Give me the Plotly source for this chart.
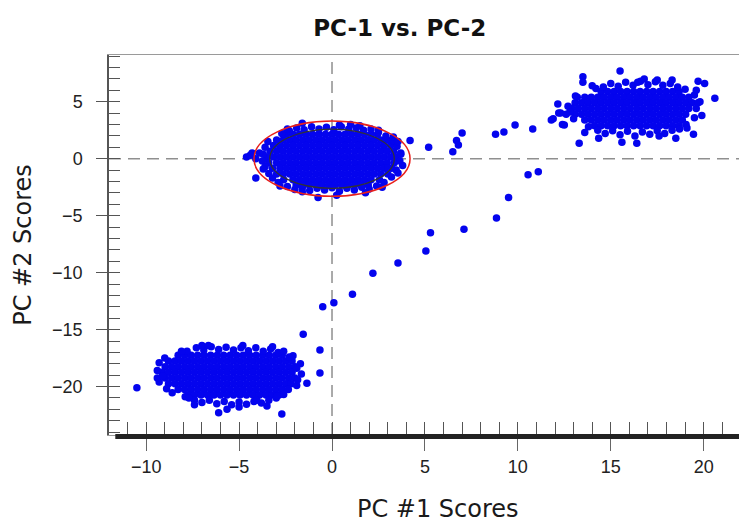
import plotly.graph_objects as go

# ---------------- data (PC scores) ----------------
# dense core of the central group: (PC2 value, [PC1 values])
center_rows = [
    (2.15, [-2.45, -2.1, -1.75, -1.4, -1.05, -0.7, -0.35, 0.0, 0.35, 0.7, 1.05, 1.4, 1.75, 2.1, 2.45]),
    (1.65, [-2.98, -2.63, -2.28, -1.93, -1.58, -1.23, -0.88, -0.53, -0.18, 0.17, 0.52, 0.87, 1.22, 1.57, 1.92, 2.27, 2.62, 2.97]),
    (1.15, [-3.15, -2.8, -2.45, -2.1, -1.75, -1.4, -1.05, -0.7, -0.35, 0.0, 0.35, 0.7, 1.05, 1.4, 1.75, 2.1, 2.45, 2.8, 3.15]),
    (0.65, [-3.33, -2.98, -2.63, -2.28, -1.93, -1.58, -1.23, -0.88, -0.53, -0.18, 0.17, 0.52, 0.87, 1.22, 1.57, 1.92, 2.27, 2.62, 2.97, 3.32]),
    (0.15, [-3.5, -3.15, -2.8, -2.45, -2.1, -1.75, -1.4, -1.05, -0.7, -0.35, 0.0, 0.35, 0.7, 1.05, 1.4, 1.75, 2.1, 2.45, 2.8, 3.15, 3.45]),
    (-0.35, [-3.4, -2.98, -2.63, -2.28, -1.93, -1.58, -1.23, -0.88, -0.53, -0.18, 0.17, 0.52, 0.87, 1.22, 1.57, 1.92, 2.27, 2.62, 2.97, 3.35]),
    (-0.85, [-3.2, -2.8, -2.45, -2.1, -1.75, -1.4, -1.05, -0.7, -0.35, 0.0, 0.35, 0.7, 1.05, 1.4, 1.75, 2.1, 2.45, 2.8, 3.2]),
    (-1.35, [-2.98, -2.63, -2.28, -1.93, -1.58, -1.23, -0.88, -0.53, -0.18, 0.17, 0.52, 0.87, 1.22, 1.57, 1.92, 2.27, 2.62, 3.0]),
    (-1.85, [-2.6, -2.1, -1.75, -1.4, -1.05, -0.7, -0.35, 0.0, 0.35, 0.7, 1.05, 1.4, 1.75, 2.1, 2.55]),
    (-2.3, [-1.93, -1.58, -1.23, -0.88, -0.53, -0.18, 0.17, 0.52, 0.87, 1.22, 1.57, 1.95]),
]
center_edge_x = [-2.3, -1.9, -1.5, -1.1, -0.7, -0.3, 0.1, 0.5, 0.9, 1.3, 1.7, 2.1, 2.5, -2.7, 2.9, 1.5,
                 -2.4, -2.0, -1.6, -1.2, -0.8, -0.4, 0.0, 0.4, 0.8, 1.2, 1.6, 2.0, 2.4, 2.8, -2.9,
                 -3.6, -3.7, -3.75, -3.6, -3.45, -3.4, 3.5, 3.7, 3.65, 3.45, 3.3, 3.2]
center_edge_y = [2.45, 2.7, 2.55, 2.8, 2.6, 2.75, 2.55, 2.8, 2.6, 2.7, 2.5, 2.6, 2.35, 2.2, 2.0, 2.9,
                 -2.45, -2.7, -2.55, -2.8, -2.6, -2.75, -2.55, -2.85, -2.6, -2.75, -2.5, -2.65, -2.4, -2.1, -2.1,
                 1.0, 0.4, -0.2, -0.7, 1.5, -1.3, 1.1, 0.5, -0.2, -1.0, 1.6, -1.6]
center_extra_x = [-4.6, -4.3, -4.1, -4.4, -3.9, -4.1, -3.2, -3.7, -2.8, -1.6, -0.75, 0.25, 1.8, 2.7,
                  -1.6, 0.4, 1.0, -2.4, 2.5, 3.3, 3.55, 4.2, 3.7, 3.8, 3.55, 3.0]
center_extra_y = [0.15, 0.5, 0.0, 0.3, 0.5, -1.7, -1.7, -0.9, -2.4, -2.9, -3.4, -3.2, -3.0, -2.5,
                  3.1, 2.95, 3.0, 2.6, 2.5, 1.9, 1.5, 1.6, 0.4, -0.6, -1.25, -0.8]

# upper-right group
upper_rows = [
    (5.9, [14.48, 14.83, 15.18, 15.53, 15.88, 16.23, 16.58, 16.93, 17.28, 17.63, 17.98, 18.33, 18.68]),
    (5.4, [13.6, 13.95, 14.3, 14.65, 15.0, 15.35, 15.7, 16.05, 16.4, 16.75, 17.1, 17.45, 17.8, 18.15, 18.5, 18.85, 19.2]),
    (4.9, [13.08, 13.43, 13.78, 14.13, 14.48, 14.83, 15.18, 15.53, 15.88, 16.23, 16.58, 16.93, 17.28, 17.63, 17.98, 18.33, 18.68, 19.03, 19.38]),
    (4.4, [12.9, 13.25, 13.6, 13.95, 14.3, 14.65, 15.0, 15.35, 15.7, 16.05, 16.4, 16.75, 17.1, 17.45, 17.8, 18.15, 18.5, 18.85, 19.2]),
    (3.9, [13.08, 13.43, 13.78, 14.13, 14.48, 14.83, 15.18, 15.53, 15.88, 16.23, 16.58, 16.93, 17.28, 17.63, 17.98, 18.33, 18.68, 19.03]),
    (3.4, [13.6, 13.95, 14.3, 14.65, 15.0, 15.35, 15.7, 16.05, 16.4, 16.75, 17.1, 17.45, 17.8, 18.15, 18.5, 18.85]),
    (2.9, [14.13, 14.48, 14.83, 15.18, 15.53, 15.88, 16.23, 16.58, 16.93, 17.28, 17.63, 17.98, 18.33, 18.68]),
]
upper_edge_x = [14.6, 15.0, 15.4, 15.8, 16.2, 16.6, 17.0, 17.4, 17.8, 18.2, 18.6, 14.2, 19.0,
                14.3, 14.7, 15.1, 15.5, 15.9, 16.3, 16.7, 17.1, 17.5, 17.9, 18.3, 18.7, 13.8, 19.05,
                12.7, 12.8, 13.0, 13.2, 12.6, 19.5, 19.6, 19.5, 19.8]
upper_edge_y = [6.3, 6.6, 6.35, 6.7, 6.45, 6.8, 6.5, 6.75, 6.45, 6.6, 6.3, 6.15, 6.1,
                2.5, 2.2, 2.45, 2.1, 2.4, 2.0, 2.35, 2.15, 2.45, 2.2, 2.5, 2.6, 2.8, 3.0,
                4.6, 4.1, 3.5, 5.4, 3.9, 5.6, 4.4, 3.6, 5.0]
upper_extra_x = [15.5, 13.5, 13.5, 20.6, 20.05, 19.7, 16.4, 19.45, 11.9, 12.4, 12.2, 14.35, 15.6, 17.6,
                 19.1, 19.6, 19.7, 18.3, 17.5, 16.8, 16.45, 13.1, 14.0, 19.9, 18.5, 13.6, 12.15]
upper_extra_y = [7.7, 7.2, 6.7, 5.3, 6.6, 6.8, 1.35, 2.15, 3.5, 3.0, 4.0, 1.8, 1.45, 2.0,
                 2.7, 6.0, 4.9, 6.9, 6.9, 7.0, 6.7, 5.5, 6.4, 3.8, 1.8, 2.3, 4.8]

# lower-left group
lower_rows = [
    (-17.25, [-8.28, -7.93, -7.58, -7.23, -6.88, -6.53, -6.18, -5.83, -5.48, -5.13, -4.78, -4.43, -4.08, -3.73, -3.38, -3.03, -2.68]),
    (-17.75, [-8.8, -8.45, -8.1, -7.75, -7.4, -7.05, -6.7, -6.35, -6.0, -5.65, -5.3, -4.95, -4.6, -4.25, -3.9, -3.55, -3.2, -2.85, -2.5, -2.15]),
    (-18.25, [-8.98, -8.63, -8.28, -7.93, -7.58, -7.23, -6.88, -6.53, -6.18, -5.83, -5.48, -5.13, -4.78, -4.43, -4.08, -3.73, -3.38, -3.03, -2.68, -2.33, -1.98]),
    (-18.75, [-9.15, -8.8, -8.45, -8.1, -7.75, -7.4, -7.05, -6.7, -6.35, -6.0, -5.65, -5.3, -4.95, -4.6, -4.25, -3.9, -3.55, -3.2, -2.85, -2.5, -2.15]),
    (-19.25, [-8.98, -8.63, -8.28, -7.93, -7.58, -7.23, -6.88, -6.53, -6.18, -5.83, -5.48, -5.13, -4.78, -4.43, -4.08, -3.73, -3.38, -3.03, -2.68, -2.33, -2.0]),
    (-19.75, [-8.8, -8.45, -8.1, -7.75, -7.4, -7.05, -6.7, -6.35, -6.0, -5.65, -5.3, -4.95, -4.6, -4.25, -3.9, -3.55, -3.2, -2.85, -2.5, -2.2]),
    (-20.25, [-8.28, -7.93, -7.58, -7.23, -6.88, -6.53, -6.18, -5.83, -5.48, -5.13, -4.78, -4.43, -4.08, -3.73, -3.38, -3.03, -2.68, -2.35]),
    (-20.75, [-7.75, -7.4, -7.05, -6.7, -6.35, -6.0, -5.65, -5.3, -4.95, -4.6, -4.25, -3.9, -3.55, -3.2, -2.85]),
]
lower_edge_x = [-7.8, -7.3, -6.9, -6.5, -6.1, -5.7, -5.3, -4.9, -4.5, -4.1, -3.7, -3.3, -2.9,
                -7.9, -7.4, -7.0, -6.6, -6.2, -5.8, -5.4, -5.0, -4.6, -4.2, -3.8, -3.4, -3.0, -2.6,
                -9.4, -9.3, -9.0, -8.9, -1.7, -1.65, -1.9, -2.1]
lower_edge_y = [-16.9, -16.6, -16.8, -16.5, -16.75, -16.55, -16.8, -16.6, -16.85, -16.6, -16.9, -16.7, -17.0,
                -20.9, -21.2, -21.4, -21.2, -21.5, -21.3, -21.6, -21.35, -21.55, -21.3, -21.45, -21.2, -21.0, -20.7,
                -18.6, -19.6, -17.5, -20.2, -18.0, -18.9, -19.9, -17.3]
lower_extra_x = [-10.5, -9.3, -9.4, -9.1, -8.6, -7.0, -6.65, -4.8, -3.2, -2.3, -1.85, -1.9, -4.05,
                 -7.7, -2.95, -6.1, -5.65, -7.4, -5.0, -3.5, -8.1, -2.6]
lower_extra_y = [-20.1, -17.9, -19.25, -19.1, -20.55, -16.4, -16.4, -16.4, -16.5, -17.4, -19.4, -18.4, -21.2,
                 -21.0, -20.8, -22.3, -22.0, -21.6, -21.8, -21.7, -16.9, -16.9]

# scattered samples between the groups
bridge_x = [5.2, 7.0, 6.7, 6.8, 6.5, 8.8, 9.25, 9.85, 10.8, 11.8, 12.5, 12.3, 13.3,
            10.55, 11.1, 9.5, 8.85, 7.1, 5.3, 5.05, 3.55, 2.2, 1.1, 0.1, -0.5,
            -1.55, -0.65, -0.65, -1.35, -2.7]
bridge_y = [1.0, 2.25, 1.6, 1.2, 0.6, 2.15, 2.35, 2.95, 2.6, 3.4, 2.95, 4.0, 1.35,
            -1.4, -1.15, -3.4, -5.2, -6.2, -6.5, -8.1, -9.15, -10.05, -11.9, -12.65, -13.0,
            -15.4, -16.8, -18.8, -19.7, -22.4]

# confidence ellipses of the central group (semi-axes in score units)
ellipse_center = (0.0, 0.0)
outer_ellipse_axes = (4.2, 3.3)   # red
inner_ellipse_axes = (3.35, 2.6)  # dark

x_ticks = [-10, -5, 0, 5, 10, 15, 20]
y_ticks = [-20, -15, -10, -5, 0, 5]
x_range = [-12.0, 21.9]
y_range = [-24.25, 9.1]

# ---------------- build point table ----------------
xs, ys = [], []
for rows in (center_rows, upper_rows, lower_rows):
    for yv, xrow in rows:
        xs.extend(xrow)
        ys.extend([yv] * len(xrow))
for ex, ey in ((center_edge_x, center_edge_y), (center_extra_x, center_extra_y),
               (upper_edge_x, upper_edge_y), (upper_extra_x, upper_extra_y),
               (lower_edge_x, lower_edge_y), (lower_extra_x, lower_extra_y),
               (bridge_x, bridge_y)):
    xs.extend(ex)
    ys.extend(ey)

BLUE = "#0404ee"
fig = go.Figure()
fig.add_trace(go.Scatter(x=xs, y=ys, mode="markers",
                         marker=dict(color=BLUE, size=7.5, line=dict(width=0)),
                         showlegend=False, hoverinfo="x+y"))
# helper trace so the overlay axes (inside tick marks) are drawn
fig.add_trace(go.Scatter(x=[x_ticks[2]], y=[y_ticks[4]], xaxis="x2", yaxis="y2", mode="markers",
                         marker=dict(opacity=0), showlegend=False, hoverinfo="skip"))

cx, cy = ellipse_center
shapes = [
    dict(type="line", xref="paper", x0=0, x1=1, yref="y", y0=0, y1=0, layer="below",
         line=dict(color="#8f8f8f", width=1.5, dash="12px,7px")),
    dict(type="line", xref="x", x0=0, x1=0, yref="paper", y0=0, y1=1, layer="below",
         line=dict(color="#8f8f8f", width=1.5, dash="12px,7px")),
    dict(type="circle", xref="x", yref="y",
         x0=cx - inner_ellipse_axes[0], x1=cx + inner_ellipse_axes[0],
         y0=cy - inner_ellipse_axes[1], y1=cy + inner_ellipse_axes[1],
         line=dict(color="#333333", width=1.2), layer="above"),
    dict(type="circle", xref="x", yref="y",
         x0=cx - outer_ellipse_axes[0], x1=cx + outer_ellipse_axes[0],
         y0=cy - outer_ellipse_axes[1], y1=cy + outer_ellipse_axes[1],
         line=dict(color="#e8201c", width=1.5), layer="above"),
    # heavy base bar under the plot
    dict(type="line", xref="paper", x0=0.01, x1=1.0, yref="paper", y0=-0.004, y1=-0.004,
         line=dict(color="#222222", width=5), layer="above"),
]

tickfont = dict(family="Liberation Sans, Arial", size=18, color="#222222")
titlefont = dict(family="DejaVu Sans", size=24, color="#1a1a1a")

fig.update_layout(
    width=739, height=522,
    margin=dict(l=109, r=0, t=55, b=87),
    paper_bgcolor="white", plot_bgcolor="white",
    title=dict(text="<b>PC-1 vs. PC-2</b>", x=0.541, xref="container", xanchor="center",
               y=1 - 28 / 522, yref="container", yanchor="middle",
               font=dict(family="DejaVu Sans", size=23, color="#111111")),
    xaxis=dict(range=x_range, tickvals=x_ticks, ticks="outside", ticklen=15, tickwidth=1.2,
               tickcolor="#666666", tickfont=tickfont, showgrid=False, zeroline=False,
               showline=True, linecolor="#9a9a9a", linewidth=1, mirror=True),
    yaxis=dict(range=y_range, tickvals=y_ticks, ticks="outside", ticklen=11, tickwidth=1.2,
               tickcolor="#555555", tickfont=tickfont, showgrid=False, zeroline=False,
               showline=True, linecolor="#555555", linewidth=1.5, mirror=False,
               ticklabelstandoff=10,
               title=dict(text="PC #2 Scores", font=titlefont, standoff=14)),
    xaxis2=dict(range=x_range, overlaying="x", anchor="y", side="bottom", dtick=1, tick0=0,
                ticks="inside", ticklen=13, tickwidth=1.2, tickcolor="#555555",
                showticklabels=False, showgrid=False, zeroline=False, showline=False),
    yaxis2=dict(range=y_range, overlaying="y", anchor="x", side="left", dtick=1, tick0=0,
                ticks="inside", ticklen=11, tickwidth=1.2, tickcolor="#555555",
                showticklabels=False, showgrid=False, zeroline=False, showline=False),
    shapes=shapes,
    annotations=[dict(text="PC #1 Scores", xref="paper", yref="paper", x=0.522, y=-0.195,
                      xanchor="center", yanchor="middle", showarrow=False, font=titlefont)],
)

fig.write_html("out.html")
